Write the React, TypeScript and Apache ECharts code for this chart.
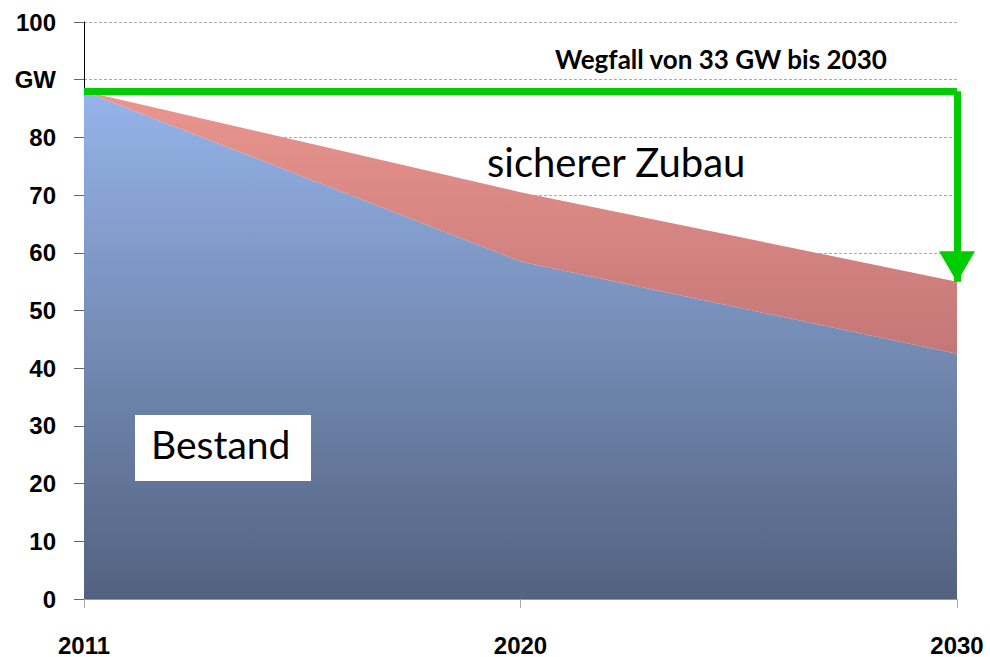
import React, { useEffect, useRef } from "react";
import * as echarts from "echarts";

const years = ["2011", "2020", "2030"];
const bestand = [88, 58.5, 42.5];
const zubau = [0, 12, 12.5];
const wegfallStart = 88;
const wegfallEnd = 55;

export default function App() {
  const ref = useRef<HTMLDivElement>(null);
  useEffect(() => {
    const chart = echarts.init(ref.current!, null, { renderer: "svg" });
    const labelFont = { fontFamily: "Liberation Sans", fontWeight: "bold" as const, fontSize: 24, color: "#000" };
    chart.setOption({
      animation: false,
      grid: { left: 84, right: 33, top: 22, bottom: 58 },
      xAxis: {
        type: "category",
        data: years,
        boundaryGap: false,
        axisLine: { lineStyle: { color: "#999", width: 1 } },
        axisTick: { show: true, length: 9, lineStyle: { color: "#aaa" } },
        axisLabel: { ...labelFont, margin: 34, showMaxLabel: true },
        splitLine: { show: false },
      },
      yAxis: {
        type: "value",
        min: 0,
        max: 100,
        interval: 10,
        axisLine: { show: true, lineStyle: { color: "#000", width: 1 } },
        axisTick: { show: true, length: 10, lineStyle: { color: "#666" } },
        axisLabel: { ...labelFont, margin: 28, formatter: (v: number) => (v === 90 ? "GW" : String(v)) },
        splitLine: { show: true, lineStyle: { color: "#aaa", type: [3, 2], width: 1 } },
      },
      series: [
        {
          name: "Bestand",
          type: "line",
          stack: "total",
          data: bestand,
          symbol: "none",
          lineStyle: { width: 0 },
          areaStyle: {
            opacity: 1,
            color: new echarts.graphic.LinearGradient(0, 0, 0, 1, [
              { offset: 0, color: "#95b4ea" },
              { offset: 1, color: "#53627f" },
            ]),
          },
          z: 2,
        },
        {
          name: "sicherer Zubau",
          type: "line",
          stack: "total",
          data: zubau,
          symbol: "none",
          lineStyle: { width: 0 },
          areaStyle: {
            opacity: 1,
            color: new echarts.graphic.LinearGradient(0, 0, 0, 1, [
              { offset: 0, color: "#eb958f" },
              { offset: 1, color: "#c37776" },
            ]),
          },
          z: 2,
          markLine: {
            silent: true,
            symbol: ["none", "none"],
            lineStyle: { color: "#00cc00", width: 7, type: "solid" },
            label: { show: false },
            data: [
              [
                { coord: [years[0], wegfallStart], symbol: "none" },
                { coord: [years[2], wegfallStart], symbol: "none" },
              ],
              [
                { coord: [years[2], wegfallStart], symbol: "none" },
                { coord: [years[2], wegfallEnd], symbol: "triangle", symbolSize: [36, 31], symbolRotate: 180, symbolOffset: [0, 15] },
              ],
            ],
          },
        },
      ],
      graphic: [
        {
          type: "text",
          left: 555,
          top: 46,
          z: 100,
          style: { text: "Wegfall von 33 GW bis 2030", font: "bold 26px Lato", fill: "#000" },
        },
        {
          type: "text",
          left: 487,
          top: 142,
          z: 100,
          style: { text: "sicherer Zubau", font: "40px Lato", fill: "#000" },
        },
        {
          type: "rect",
          left: 135,
          top: 415,
          z: 100,
          shape: { x: 0, y: 0, width: 176, height: 66 },
          style: { fill: "#ffffff" },
        },
        {
          type: "text",
          left: 151,
          top: 424,
          z: 101,
          style: { text: "Bestand", font: "39px Lato", fill: "#000" },
        },
      ],
    });
    return () => chart.dispose();
  }, []);
  return <div ref={ref} style={{ width: 990, height: 657, position: "absolute", left: 0, top: 0 }} />;
}
